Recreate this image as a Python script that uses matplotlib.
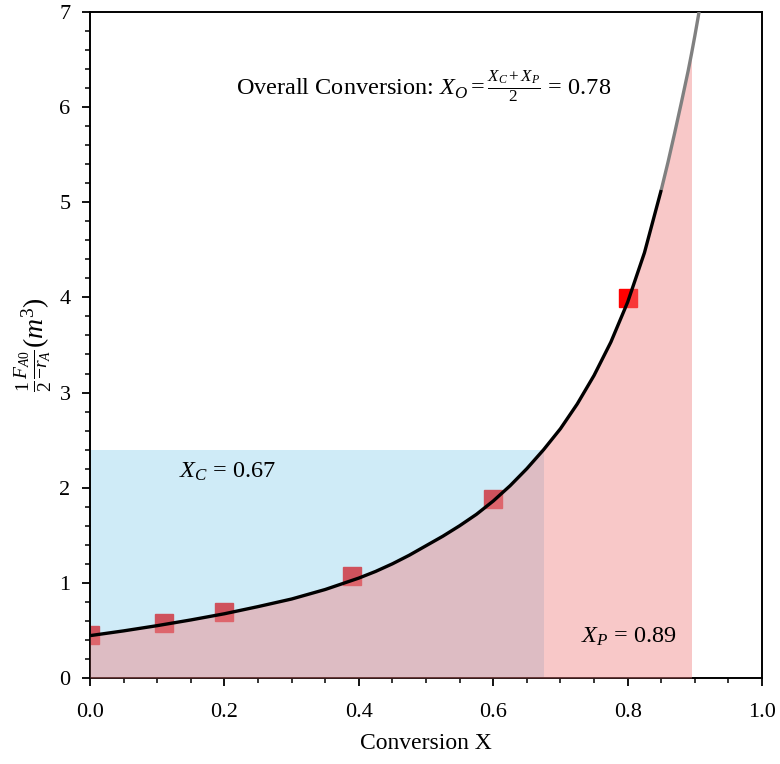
import matplotlib
matplotlib.use("Agg")
import matplotlib.pyplot as plt
import numpy as np
from matplotlib.ticker import MultipleLocator

plt.rcParams['font.family'] = ['Liberation Serif', 'DejaVu Serif']
plt.rcParams['mathtext.fontset'] = 'custom'
plt.rcParams['mathtext.rm'] = 'Liberation Serif'
plt.rcParams['mathtext.it'] = 'Liberation Serif:italic'
plt.rcParams['mathtext.bf'] = 'Liberation Serif:bold'

# measured data points
data_x = [0.0, 0.11, 0.2, 0.39, 0.6, 0.8]
data_y = [0.45, 0.575, 0.695, 1.07, 1.88, 3.99]

# fitted curve (black part)
fit_x = [0.0, 0.05, 0.1, 0.15, 0.2, 0.25, 0.3, 0.35, 0.4, 0.425, 0.45, 0.475,
         0.5, 0.525, 0.55, 0.575, 0.6, 0.625, 0.65, 0.675, 0.7, 0.725, 0.75,
         0.775, 0.8, 0.825, 0.85]
fit_y = [0.445, 0.495, 0.55, 0.61, 0.675, 0.75, 0.83, 0.93, 1.05, 1.12, 1.2, 1.29,
         1.39, 1.49, 1.6, 1.72, 1.86, 2.02, 2.2, 2.4, 2.62, 2.88, 3.18,
         3.53, 3.95, 4.47, 5.13]

# extrapolated curve (gray part)
ext_x = [0.85, 0.86, 0.87, 0.88, 0.89, 0.895, 0.9, 0.905, 0.91]
ext_y = [5.13, 5.42, 5.73, 6.05, 6.38, 6.56, 6.75, 6.95, 7.16]

X_C = 0.675
Y_C = 2.4
X_P = 0.895

fig = plt.figure(figsize=(7.8, 7.64), dpi=100)
ax = fig.add_axes([0.1154, 0.1126, 0.977 - 0.1154, 0.9843 - 0.1126])

ax.plot(data_x, data_y, 's', color='red', markersize=13, zorder=1, clip_on=True)

ax.fill_between([0, X_C], [Y_C, Y_C], 0, color='skyblue', alpha=0.4, linewidth=0, zorder=2)

all_x = np.array(fit_x + ext_x[1:])
all_y = np.array(fit_y + ext_y[1:])
m = all_x <= X_P + 1e-9
ax.fill_between(all_x[m], all_y[m], 0, color='lightcoral', alpha=0.43, linewidth=0, zorder=3)

ax.plot(fit_x, fit_y, color='black', lw=2.4, zorder=5, solid_capstyle='butt')
ax.plot(ext_x, ext_y, color='gray', lw=2.4, zorder=4, solid_capstyle='butt')

ax.set_xlim(0, 1)
ax.set_ylim(0, 7)
ax.xaxis.set_major_locator(MultipleLocator(0.2))
ax.xaxis.set_minor_locator(MultipleLocator(0.05))
ax.yaxis.set_major_locator(MultipleLocator(1))
ax.yaxis.set_minor_locator(MultipleLocator(0.2))
ax.tick_params(which='major', length=6, width=1.3, labelsize=16)
ax.tick_params(axis='x', which='major', pad=12)
ax.tick_params(axis='y', which='major', pad=8)
ax.tick_params(which='minor', length=3.5, width=1.1)
for s in ax.spines.values():
    s.set_linewidth(1.4)

ax.set_xlabel('Conversion X', fontsize=17, labelpad=8)
ax.set_ylabel(r'$\frac{1}{2}\frac{F_{A0}}{-r_A}(m^3)$', fontsize=20, labelpad=4)

ax.text(0.496, 6.22, r'Overall Conversion: $X_O = \frac{X_C+X_P}{2}$ = 0.78',
        fontsize=17.5, ha='center', va='center', zorder=6)
ax.text(0.133, 2.17, r'$X_C$ = 0.67', fontsize=17.5, ha='left', va='center', zorder=6)
ax.text(0.73, 0.43, r'$X_P$ = 0.89', fontsize=17.5, ha='left', va='center', zorder=6)

fig.savefig('out.png', dpi=100)
